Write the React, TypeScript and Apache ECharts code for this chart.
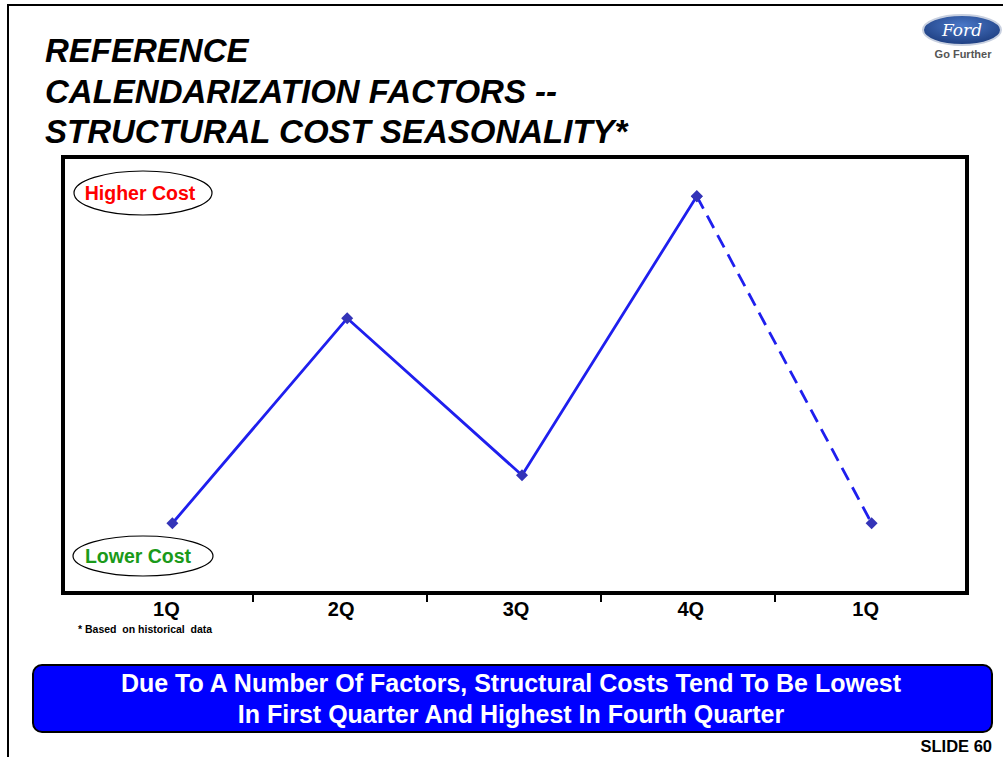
import React, { useEffect, useRef } from "react";
import * as echarts from "echarts";

// Quarter sequence shown along the x axis (wraps to next year's 1Q)
const quarters = ["1Q", "2Q", "3Q", "4Q", "1Q"];
// Relative structural cost level per quarter (0 = lowest, 100 = highest)
const actualCost = [16, 63, 27, 91, null];
// Projected move from 4Q into the following 1Q (drawn dashed)
const projectedCost = [null, null, null, 91, 16];
// Quarter boundary positions used for the divider ticks
const boundaryTicks = [1, 4];

const titleLines = [
  "REFERENCE",
  "CALENDARIZATION FACTORS --",
  "STRUCTURAL COST SEASONALITY*",
];
const bannerLines = [
  "Due To A Number Of Factors, Structural Costs Tend To Be Lowest",
  "In First Quarter And Highest In Fourth Quarter",
];

const FONT = '"Liberation Sans", Arial, sans-serif';

export default function App() {
  const ref = useRef<HTMLDivElement>(null);

  useEffect(() => {
    if (!ref.current) return;
    const chart = echarts.init(ref.current, null, { renderer: "svg" });

    const lineColor = "#1f1fee";
    const markerColor = "#3434b8";

    chart.setOption({
      animation: false,
      backgroundColor: "#ffffff",
      grid: [
        { left: 85, top: 157, width: 874, height: 436 },
        { left: 253, top: 157, width: 522, height: 436 },
      ],
      xAxis: [
        {
          type: "category",
          gridIndex: 0,
          data: quarters,
          boundaryGap: true,
          axisLine: { show: false },
          axisTick: { show: false },
          axisLabel: {
            color: "#000",
            fontFamily: FONT,
            fontWeight: "bold",
            fontSize: 20,
            margin: 6,
            padding: [0, 12, 0, 0],
          },
        },
        {
          type: "value",
          gridIndex: 1,
          min: boundaryTicks[0],
          max: boundaryTicks[1],
          interval: 1,
          position: "bottom",
          axisLine: { show: false },
          axisTick: { show: true, length: 9, lineStyle: { color: "#000", width: 2 } },
          axisLabel: { show: false },
          splitLine: { show: false },
        },
      ],
      yAxis: [
        { type: "value", gridIndex: 0, min: 0, max: 100, show: false },
        { type: "value", gridIndex: 1, min: 0, max: 100, show: false },
      ],
      series: [
        {
          type: "line",
          xAxisIndex: 0,
          yAxisIndex: 0,
          data: actualCost,
          connectNulls: false,
          symbol: "diamond",
          symbolSize: 12,
          itemStyle: { color: markerColor },
          lineStyle: { color: lineColor, width: 2.8 },
          z: 3,
        },
        {
          type: "line",
          xAxisIndex: 0,
          yAxisIndex: 0,
          data: projectedCost,
          symbol: "diamond",
          symbolSize: 12,
          itemStyle: { color: markerColor },
          lineStyle: { color: lineColor, width: 2.8, type: [14, 8] },
          z: 2,
        },
      ],
      graphic: [
        // slide frame
        {
          type: "polyline",
          shape: { points: [[8, 757], [8, 5], [1003, 5]] },
          style: { stroke: "#000", lineWidth: 2, fill: "none" },
          silent: true,
        },
        // plot frame
        {
          type: "rect",
          shape: { x: 63, y: 157, width: 904, height: 436 },
          style: { stroke: "#000", lineWidth: 4, fill: "none" },
          z: 10,
          silent: true,
        },
        // title
        ...titleLines.map((t, i) => ({
          type: "text",
          left: 45,
          top: 34 + i * 40.5,
          style: {
            text: t,
            fill: "#000",
            fontFamily: FONT,
            fontStyle: "italic",
            fontWeight: "bold",
            fontSize: 33,
          },
        })),
        // Ford badge
        {
          type: "ellipse",
          shape: { cx: 962, cy: 30, rx: 39, ry: 15 },
          style: {
            fill: new echarts.graphic.RadialGradient(0.5, 0.35, 0.8, [
              { offset: 0, color: "#4a78c8" },
              { offset: 1, color: "#13306f" },
            ]),
            stroke: "#c8d0e0",
            lineWidth: 2,
          },
        },
        {
          type: "text",
          x: 962,
          y: 30,
          style: {
            text: "Ford",
            fill: "#ffffff",
            fontFamily: '"DejaVu Serif", serif',
            fontStyle: "italic",
            fontSize: 17,
            align: "center",
            verticalAlign: "middle",
          },
        },
        {
          type: "text",
          x: 963,
          y: 54,
          style: {
            text: "Go Further",
            fill: "#555",
            fontFamily: FONT,
            fontWeight: "bold",
            fontSize: 11,
            align: "center",
            verticalAlign: "middle",
          },
        },
        // cost level callouts
        {
          type: "ellipse",
          shape: { cx: 143, cy: 193, rx: 69, ry: 22 },
          style: { fill: "#fff", stroke: "#000", lineWidth: 1.2 },
          z: 5,
        },
        {
          type: "text",
          x: 140,
          y: 193,
          z: 6,
          style: {
            text: "Higher Cost",
            fill: "#ff0000",
            fontFamily: FONT,
            fontWeight: "bold",
            fontSize: 19.5,
            align: "center",
            verticalAlign: "middle",
          },
        },
        {
          type: "ellipse",
          shape: { cx: 143, cy: 556, rx: 70, ry: 20 },
          style: { fill: "#fff", stroke: "#000", lineWidth: 1.2 },
          z: 5,
        },
        {
          type: "text",
          x: 138,
          y: 556,
          z: 6,
          style: {
            text: "Lower Cost",
            fill: "#1a9a1a",
            fontFamily: FONT,
            fontWeight: "bold",
            fontSize: 19.5,
            align: "center",
            verticalAlign: "middle",
          },
        },
        // footnote
        {
          type: "text",
          x: 78,
          y: 629,
          style: {
            text: "* Based  on historical  data",
            fill: "#000",
            fontFamily: FONT,
            fontWeight: "bold",
            fontSize: 10.5,
            verticalAlign: "middle",
          },
        },
        // summary banner
        {
          type: "rect",
          shape: { x: 33, y: 665, width: 959, height: 67, r: 9 },
          style: { fill: "#0000ff", stroke: "#000", lineWidth: 2 },
        },
        ...bannerLines.map((t, i) => ({
          type: "text",
          x: 511,
          y: 683 + i * 31,
          style: {
            text: t,
            fill: "#fff",
            fontFamily: FONT,
            fontWeight: "bold",
            fontSize: 25,
            align: "center",
            verticalAlign: "middle",
          },
        })),
        {
          type: "text",
          x: 992,
          y: 746,
          style: {
            text: "SLIDE 60",
            fill: "#000",
            fontFamily: FONT,
            fontWeight: "bold",
            fontSize: 16.5,
            align: "right",
            verticalAlign: "middle",
          },
        },
      ],
    });

    return () => chart.dispose();
  }, []);

  return (
    <div
      ref={ref}
      style={{ position: "absolute", left: 0, top: 0, width: 1003, height: 757 }}
    />
  );
}
